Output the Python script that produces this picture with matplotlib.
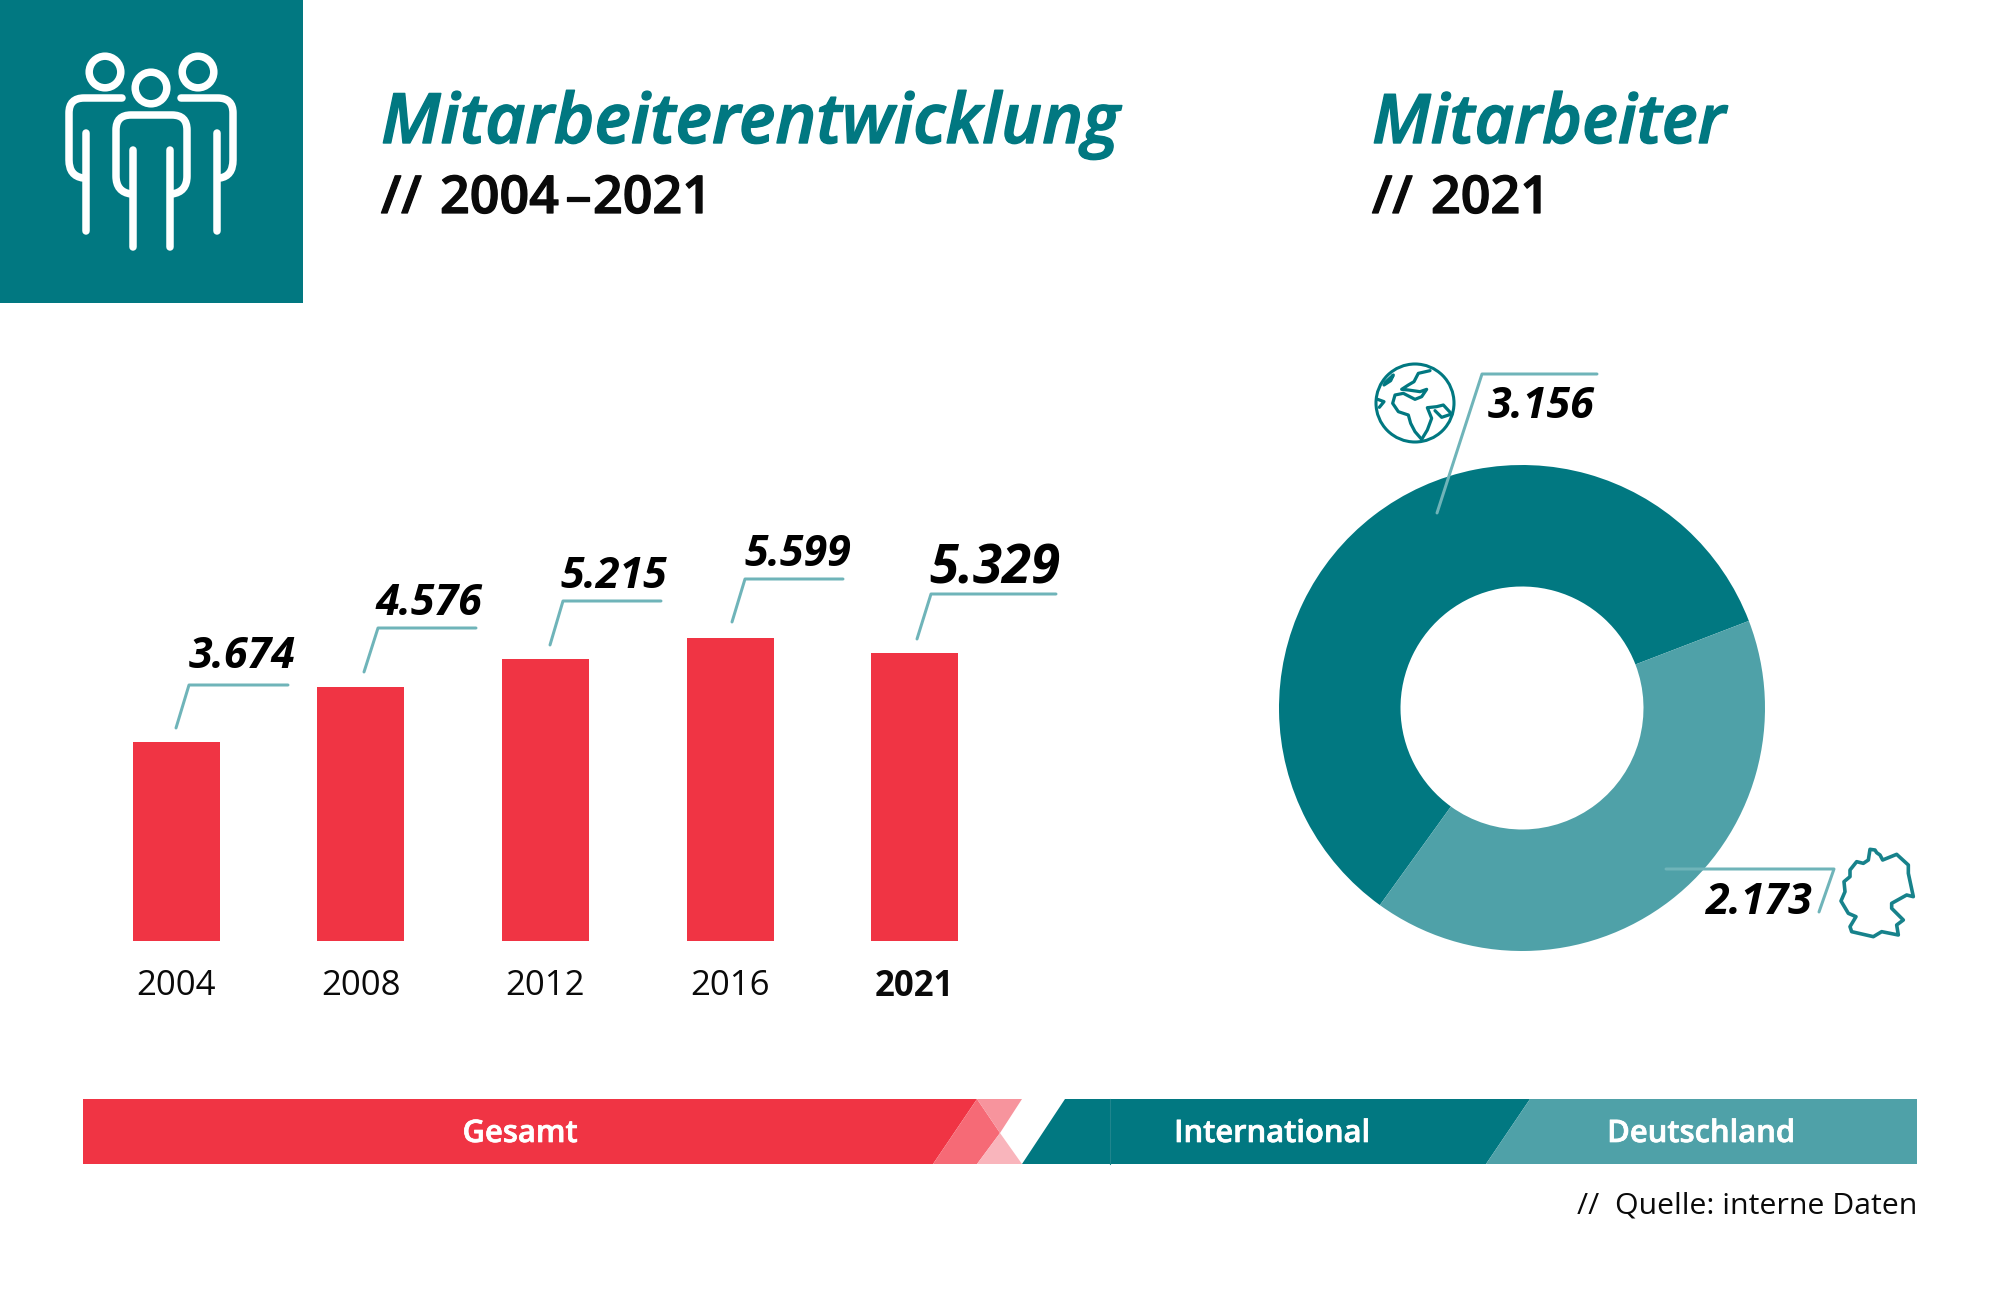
import matplotlib
matplotlib.use('Agg')
import matplotlib.pyplot as plt
import matplotlib.patheffects as pe
from matplotlib.patches import Circle, Polygon, PathPatch, Rectangle
from matplotlib.path import Path

years = ['2004', '2008', '2012', '2016', '2021']
totals = [3674, 4576, 5215, 5599, 5329]
# heights as drawn in the picture, the 2008 bar stands a bit above its label
bar_heights = [3674, 4688, 5215, 5599, 5329]
split_labels = ['International', 'Deutschland']
split_values = [3156, 2173]

TEAL = '#017881'
LIGHT_TEAL = '#4FA1A8'
LINE_TEAL = '#6FB4B9'
RED = '#F03444'
INK = '#0A0A0A'
W, H = 2000, 1297
FONT = 'Open Sans'


def de(v):
    return f'{v:,}'.replace(',', '.')


def px_axes(fig, left, top, width, height):
    return fig.add_axes([left / W, 1 - (top + height) / H, width / W, height / H])


def stroke(ax, pts, color='white', lw=7.5, closed=False, z=5):
    ax.add_patch(Polygon(pts, closed=closed, fill=False, ec=color, lw=lw * 0.72,
                         joinstyle='round', capstyle='round', zorder=z))


def curve(ax, verts, codes, color='white', lw=7.5):
    ax.add_patch(PathPatch(Path(verts, codes), fill=False, ec=color, lw=lw * 0.72,
                           capstyle='round', zorder=5))


def heavy(color, w=0.9):
    # a little heavier than the semibold cut
    return [pe.withStroke(linewidth=w, foreground=color)]


def people_icon(ax):
    ax.add_patch(Rectangle((0, 0), 303, 303, fc=TEAL, ec='none', zorder=4))
    for cx, cy in [(105, 72), (151, 88), (198, 72)]:
        ax.add_patch(Circle((cx, cy), 15.8, fill=False, ec='white', lw=7.5 * 0.72, zorder=5))
    M, L, Q = Path.MOVETO, Path.LINETO, Path.CURVE3
    # left and right figure
    curve(ax, [(122, 98), (84, 98), (69, 98), (69, 113), (69, 160), (69, 176), (83, 178)],
          [M, L, Q, Q, L, Q, Q])
    curve(ax, [(181, 98), (218, 98), (233, 98), (233, 113), (233, 160), (233, 176), (220, 178)],
          [M, L, Q, Q, L, Q, Q])
    # middle figure
    curve(ax, [(131, 194), (116, 192), (116, 176), (116, 130), (116, 115), (131, 115),
               (172, 115), (187, 115), (187, 130), (187, 176), (187, 192), (172, 194)],
          [M, Q, Q, L, Q, Q, L, Q, Q, L, Q, Q])
    for x, y0, y1 in [(86, 133, 231), (217, 133, 231), (132.5, 150, 247), (170, 150, 247)]:
        stroke(ax, [(x, y0), (x, y1)])


def zoom_pts(pts, x0, y0):
    return [(x0 + x / 3, y0 + y / 3) for x, y in pts]


def globe_icon(ax):
    ax.add_patch(Circle((1415, 403), 39, fill=False, ec=TEAL, lw=2.2))
    africa = [(245, 298), (225, 275), (212, 250), (205, 225), (175, 215), (158, 190), (165, 165),
              (190, 160), (225, 178), (245, 170), (260, 148), (240, 155), (205, 150), (185, 148),
              (205, 135), (222, 125), (235, 100), (270, 92)]
    arabia = [(245, 298), (262, 270), (275, 235), (262, 203), (290, 200), (310, 195), (335, 222),
              (305, 232), (285, 212)]
    for shape in (africa, arabia):
        stroke(ax, zoom_pts(shape, 1340, 340), color=TEAL, lw=3.2)
    stroke(ax, zoom_pts([(135, 128), (160, 105), (152, 122), (132, 135)], 1340, 340), color=TEAL, lw=3.2)
    stroke(ax, zoom_pts([(113, 178), (132, 185), (118, 202)], 1340, 340), color=TEAL, lw=3.2)


def germany_icon(ax):
    outline = [(690, 88), (705, 90), (710, 98), (720, 105), (728, 120), (770, 103), (805, 135),
               (805, 160), (820, 230), (800, 225), (755, 250), (755, 265), (790, 300), (770, 315),
               (775, 345), (725, 335), (700, 350), (635, 335), (630, 320), (648, 290), (625, 280),
               (603, 243), (615, 215), (612, 185), (630, 170), (630, 150), (650, 125), (670, 130),
               (685, 120)]
    stroke(ax, zoom_pts(outline, 1640, 820), color='#17828B', lw=3.6, closed=True)


fig = plt.figure(figsize=(W / 100, H / 100), dpi=100, facecolor='white')

# bars, 303 px high for the largest value
bar_ax = px_axes(fig, 83.7, 941 - 6000 * 303 / 5599, 923.5, 6000 * 303 / 5599)
bar_ax.bar(range(len(years)), bar_heights, width=0.471, color=RED)
bar_ax.set_xlim(-0.5, 4.5)
bar_ax.set_ylim(0, 6000)
bar_ax.set_xticks(range(len(years)), years, fontsize=25, family=FONT, color=INK)
bar_ax.get_xticklabels()[-1].set_fontweight('bold')
bar_ax.tick_params(length=0, pad=20)
bar_ax.set_yticks([])
for s in bar_ax.spines.values():
    s.set_visible(False)

# donut
pie_ax = px_axes(fig, 1522 - 243, 708 - 243, 486, 486)
pie_ax.pie(split_values, colors=[TEAL, LIGHT_TEAL], startangle=21, radius=1,
           wedgeprops=dict(width=0.5, linewidth=0))
pie_ax.set_xlim(-1, 1)
pie_ax.set_ylim(-1, 1)

# overlay in picture pixels
ov = fig.add_axes([0, 0, 1, 1], facecolor='none')
ov.set_xlim(0, W)
ov.set_ylim(H, 0)
ov.axis('off')

people_icon(ov)
globe_icon(ov)
germany_icon(ov)

ov.text(381, 143, 'Mitarbeiterentwicklung', fontsize=50, family=FONT, style='italic',
        weight='semibold', color=TEAL, path_effects=heavy(TEAL, 1.0))
ov.text(1372, 143, 'Mitarbeiter', fontsize=49.2, family=FONT, style='italic',
        weight='semibold', color=TEAL, path_effects=heavy(TEAL, 1.0))
for x, txt, ha in [(381, '//', 'left'), (440, '2004', 'left'), (578, '–', 'center'), (593, '2021', 'left'),
                   (1372, '//', 'left'), (1431, '2021', 'left')]:
    ov.text(x, 213, txt, fontsize=37.5, family=FONT, weight='semibold', color=INK, ha=ha,
            path_effects=heavy(INK))

# callouts over the bars
bar_calls = [[(176, 728), (189, 685), (288, 685)],
             [(364, 672), (378, 628), (476, 628)],
             [(550, 645), (563, 601), (661, 601)],
             [(732, 622), (745, 579), (843, 579)],
             [(917, 639), (931, 594), (1056, 594)]]
label_spots = [(295, 668), (482, 615), (667, 588), (851, 566), (1060, 584)]
for i, (pts, spot, v) in enumerate(zip(bar_calls, label_spots, totals)):
    stroke(ov, pts, color=LINE_TEAL, lw=3)
    ov.text(spot[0], spot[1], de(v), fontsize=38 if i == len(totals) - 1 else 31, family=FONT,
            style='italic', weight='bold', color='black', ha='right')

stroke(ov, [(1437, 513), (1482, 374), (1597, 374)], color=LINE_TEAL, lw=3)
stroke(ov, [(1666, 869), (1834, 869), (1819, 912)], color=LINE_TEAL, lw=3)
ov.text(1594, 418, de(split_values[0]), fontsize=31, family=FONT, style='italic', weight='bold',
        color='black', ha='right')
ov.text(1812, 914, de(split_values[1]), fontsize=31, family=FONT, style='italic', weight='bold',
        color='black', ha='right')

# legend band
ov.add_patch(Polygon([(83, 1099), (977, 1099), (933, 1164), (83, 1164)], fc=RED, ec='none'))
ov.add_patch(Polygon([(933, 1164), (977, 1099), (1000, 1133), (977, 1164)], fc='#F66A76', ec='none'))
ov.add_patch(Polygon([(977, 1099), (1022, 1099), (1000, 1133)], fc='#F7949D', ec='none'))
ov.add_patch(Polygon([(977, 1164), (1000, 1133), (1022, 1164)], fc='#F9B5BC', ec='none'))
ov.add_patch(Polygon([(1022, 1164), (1065, 1099), (1530, 1099), (1486, 1164)], fc=TEAL, ec='none'))
ov.add_patch(Polygon([(1486, 1164), (1530, 1099), (1917, 1099), (1917, 1164)], fc=LIGHT_TEAL, ec='none'))
ov.plot([1110, 1110], [1099, 1164], color='#1F858D', lw=0.8)

for x, label in [(520, 'Gesamt'), (1272, split_labels[0]), (1701, split_labels[1])]:
    ov.text(x, 1134, label, fontsize=22.3, family=FONT, weight='semibold', color='white',
            ha='center', va='center', path_effects=heavy('white', 0.5))
ov.text(1917, 1213, '//  Quelle: interne Daten', fontsize=21.8, family=FONT, color=INK, ha='right')

fig.savefig('out.png', dpi=100)
